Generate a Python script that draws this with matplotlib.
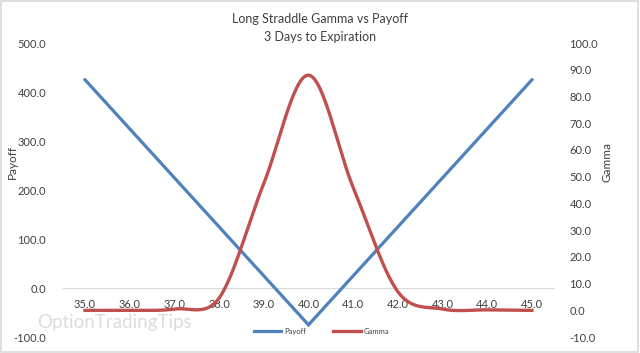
import numpy as np
import matplotlib.pyplot as plt
from matplotlib.patches import Rectangle

# Strike prices and series
strikes = [35.0, 36.0, 37.0, 38.0, 39.0, 40.0, 41.0, 42.0, 43.0, 44.0, 45.0]
payoff = [425, 325, 225, 125, 25, -75, 25, 125, 225, 325, 425]
gamma = [0.0, 0.0, 0.5, 4.6, 47.5, 88.0, 46.0, 7.0, 0.5, 0.2, 0.0]
tick_labels = [f"{s:.1f}" for s in strikes]

BLUE = '#4F81BD'
RED = '#C0504D'
TXT = '#404040'

plt.rcParams['font.family'] = ['Lato', 'DejaVu Sans']


# Excel-like smoothed line: Catmull-Rom Bezier in screen units,
# control arms capped at half the segment length
def smooth(x, y, sx=44.6, sy=2.67, n=30):
    P = np.column_stack([np.asarray(x, float) * sx, np.asarray(y, float) * sy])
    k = len(P)
    t = np.linspace(0, 1, n, endpoint=False)[:, None]
    pts = []
    for i in range(k - 1):
        p0 = P[max(i - 1, 0)]
        p1, p2 = P[i], P[i + 1]
        p3 = P[min(i + 2, k - 1)]
        half = np.hypot(*(p2 - p1)) / 2
        a1 = (p2 - p0) / 6
        a2 = (p3 - p1) / 6
        if np.hypot(*a1) > half:
            a1 = a1 * half / np.hypot(*a1)
        if np.hypot(*a2) > half:
            a2 = a2 * half / np.hypot(*a2)
        b1, b2 = p1 + a1, p2 - a2
        pts.append((1 - t)**3 * p1 + 3 * (1 - t)**2 * t * b1 + 3 * (1 - t) * t**2 * b2 + t**3 * p2)
    pts.append(P[-1:])
    pts = np.vstack(pts)
    return pts[:, 0] / sx, pts[:, 1] / sy


fig = plt.figure(figsize=(6.4, 3.53), dpi=100)
ax = fig.add_axes([0.098, 0.045, 0.768, 0.833])
ax2 = ax.twinx()

l1, = ax.plot(strikes, payoff, color=BLUE, lw=2.3, solid_joinstyle='miter', zorder=3)
gx, gy = smooth(strikes, gamma)
l2, = ax2.plot(gx, gy, color=RED, lw=2.4, zorder=3)

ax.set_xlim(34.5, 45.5)
ax.set_ylim(-100, 500)
ax2.set_ylim(-10, 100)
ax.set_yticks(np.arange(-100, 501, 100))
ax.set_yticklabels([f"{v:.1f}" for v in np.arange(-100, 501, 100)])
ax2.set_yticks(np.arange(-10, 101, 10))
ax2.set_yticklabels([f"{v:.1f}" for v in np.arange(-10, 101, 10)])
ax.set_xticks(strikes)
ax.set_xticklabels(tick_labels)

for a in (ax, ax2):
    for s in a.spines.values():
        s.set_visible(False)
    a.tick_params(length=0, labelsize=8, colors=TXT)
ax.spines['bottom'].set_visible(True)
ax.spines['bottom'].set_position(('data', 0))
ax.spines['bottom'].set_color('#D9D9D9')
ax.tick_params(axis='x', pad=8)
ax.tick_params(axis='y', pad=12)
ax2.tick_params(axis='y', pad=11)

fig.text(0.019, 0.54, 'Payoff', rotation=90, ha='center', va='center', fontsize=8.5, color=TXT)
fig.text(0.948, 0.54, 'Gamma', rotation=90, ha='center', va='center', fontsize=8.5, color=TXT)

fig.text(0.5, 0.947, 'Long Straddle Gamma vs Payoff', ha='center', va='center', fontsize=9, color=TXT)
fig.text(0.5, 0.896, '3 Days to Expiration', ha='center', va='center', fontsize=9, color=TXT)

# legend
fig.legend(handles=[l1, l2], labels=['Payoff', 'Gamma'],
           loc='center', bbox_to_anchor=(0.502, 0.062), ncol=2, frameon=False,
           fontsize=5.5, handlelength=3.6, handletextpad=0.35, columnspacing=3.6,
           labelcolor=TXT)

# watermark
fig.text(0.058, 0.085, 'OptionTradingTips', fontsize=13.5, color='#DCDCDC',
         ha='left', va='center', zorder=0)

fig.patches.append(Rectangle((0.002, 0.003), 0.995, 0.993, transform=fig.transFigure,
                             fill=False, edgecolor='#D9D9D9', lw=1.2))

fig.savefig('out.png', dpi=100)
